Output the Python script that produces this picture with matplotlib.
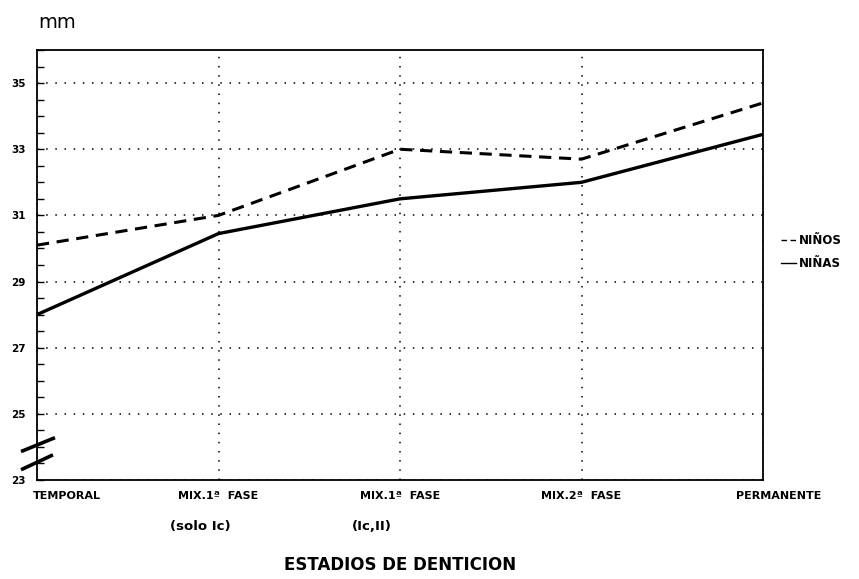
import matplotlib
matplotlib.use("Agg")
import matplotlib.pyplot as plt
import numpy as np

categories = ["TEMPORAL", "MIX.1ª  FASE\n(solo Ic)", "MIX.1ª  FASE\n(Ic,II)", "MIX.2ª  FASE", "PERMANENTE"]
ninos = [30.1, 31.0, 33.0, 32.7, 34.4]
ninas = [28.0, 30.45, 31.5, 32.0, 33.45]
yticks = [23, 25, 27, 29, 31, 33, 35]
ytick_labels = ["23", "25", "27", "29", "31", "33", "35"]

plt.rcParams['font.family'] = ['DejaVu Sans']

fig = plt.figure(figsize=(8.59, 5.79), dpi=100)
ax = fig.add_axes([37/859, 1-480/579, (763-37)/859, (480-50)/579])

x = np.arange(len(categories))
ax.plot(x, ninos, color='black', lw=2.2, ls=(0, (4, 2.5)), label='NIÑOS')
ax.plot(x, ninas, color='black', lw=2.4, ls='-', label='NIÑAS')

ax.set_xlim(0, 4)
ax.set_ylim(23, 36)
ax.set_yticks(yticks)
ax.set_yticklabels(ytick_labels, fontsize=7.5, fontweight='heavy')
ax.set_yticks(np.arange(23, 36.01, 0.5), minor=True)
ax.tick_params(axis='y', which='both', direction='in', length=5, width=1)
ax.tick_params(axis='y', which='major', pad=8)

ax.set_xticks(x)
ax.set_xticklabels([])
ax.tick_params(axis='x', which='both', length=0)
fs = 8.0
for i, lab in enumerate(categories):
    parts = lab.split("\n")
    if i == 0:
        ax.annotate(parts[0], (i, 23), xytext=(-3, -8), textcoords='offset points',
                    ha='left', va='top', fontsize=fs, fontweight='bold')
    elif i == len(categories) - 1:
        ax.annotate(parts[0], (i, 23), xytext=(11, -8), textcoords='offset points',
                    ha='center', va='top', fontsize=fs, fontweight='bold')
    else:
        ax.annotate(parts[0], (i, 23), xytext=(0, -8), textcoords='offset points',
                    ha='center', va='top', fontsize=fs, fontweight='bold')
        if len(parts) > 1:
            ax.annotate(parts[1], (i, 23), xytext=(-35, -29), textcoords='offset points',
                        ha='left', va='top', fontsize=9.5, fontweight='bold')

ax.grid(True, which='major', axis='both', color='black', ls=(0, (1, 5)), lw=1.1)

for s in ax.spines.values():
    s.set_linewidth(1.3)

# axis break marks
ax.plot([-0.088, 0.099], [23.86, 24.28], color='black', lw=2.6, clip_on=False, solid_capstyle='butt')
ax.plot([-0.088, 0.088], [23.31, 23.76], color='black', lw=2.6, clip_on=False, solid_capstyle='butt')

fig.text(38/859, 1-22/579, "mm", fontsize=14, ha='left', va='center')
fig.text(400/859, 1-565/579, "ESTADIOS DE DENTICION", fontsize=12, fontweight='heavy', ha='center', va='center')

leg = ax.legend(loc='center left', bbox_to_anchor=(1.01, 0.53), frameon=False,
                handlelength=1.3, handletextpad=0.2, labelspacing=0.85,
                prop={'weight': 'bold', 'size': 8.5})
for h in leg.get_lines():
    h.set_linewidth(1)

fig.savefig("out.png", dpi=100)
